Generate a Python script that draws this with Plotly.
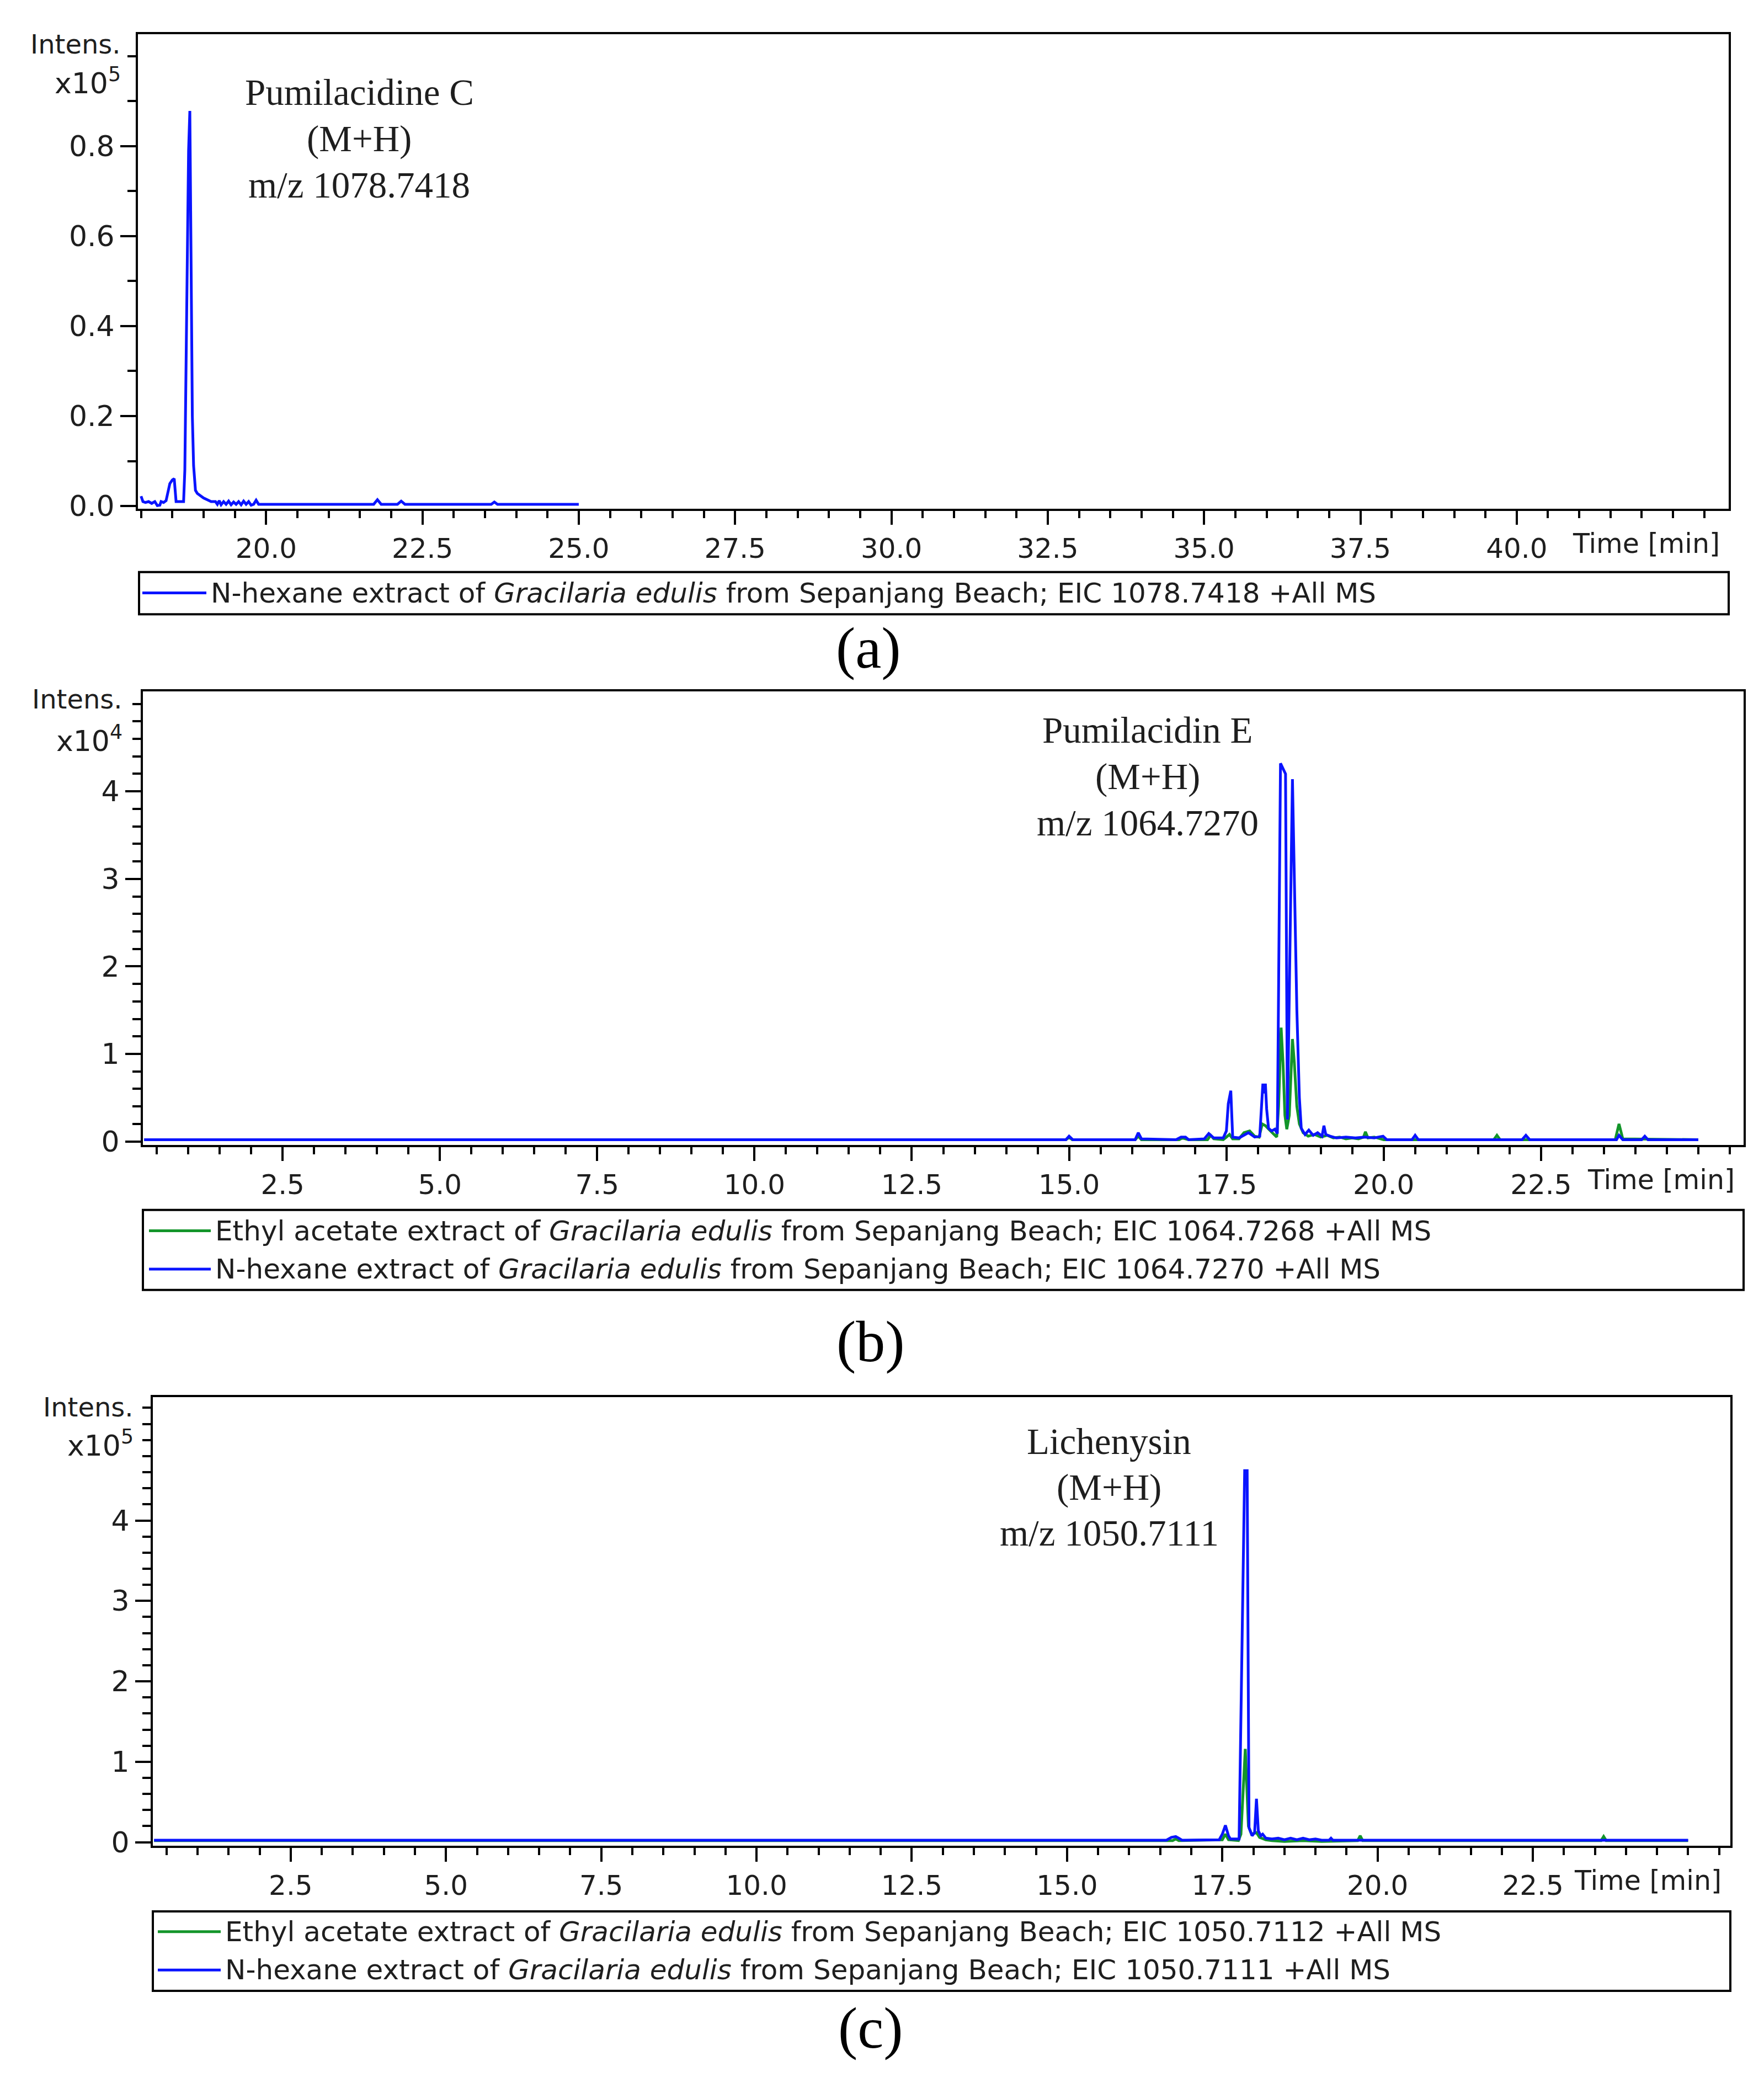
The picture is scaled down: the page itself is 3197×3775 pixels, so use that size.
import plotly.graph_objects as go

W, H = 3197, 3775

# ---------------- data (intensities in units shown on each y axis) ----------------
# Panel (a): N-hexane extract, EIC 1078.7418 (x10^5)
A_HX_TIME = [18.00, 18.03, 18.07, 18.12, 18.17, 18.22, 18.26, 18.30, 18.32, 18.36, 18.40,
             18.43, 18.46, 18.50, 18.53, 18.56, 18.60, 18.64, 18.68, 18.70, 18.72, 18.74,
             18.76, 18.78, 18.80, 18.82, 18.84, 18.87, 18.90, 18.95, 19.00, 19.06, 19.12,
             19.19, 19.22, 19.25, 19.28, 19.32, 19.36, 19.40, 19.44, 19.48, 19.52, 19.56,
             19.60, 19.64, 19.68, 19.72, 19.76, 19.80, 19.84, 19.88, 19.95, 21.72, 21.78,
             21.84, 22.10, 22.16, 22.22, 23.60, 23.65, 23.70, 25.00]
A_HX_INT = [0.022, 0.010, 0.008, 0.010, 0.006, 0.010, 0.001, 0.002, 0.010, 0.008, 0.012,
            0.034, 0.050, 0.058, 0.061, 0.010, 0.010, 0.010, 0.010, 0.080, 0.300, 0.600,
            0.790, 0.878, 0.450, 0.200, 0.090, 0.035, 0.028, 0.022, 0.018, 0.014, 0.010,
            0.010, 0.004, 0.012, 0.003, 0.010, 0.004, 0.011, 0.003, 0.009, 0.004, 0.010,
            0.003, 0.011, 0.004, 0.010, 0.002, 0.004, 0.013, 0.004, 0.004, 0.004, 0.014,
            0.004, 0.004, 0.011, 0.004, 0.004, 0.009, 0.004, 0.004]

# Panel (b): EIC 1064.727 (x10^4)
B_EA_TIME = [0.30, 14.95, 15.00, 15.05, 16.05, 16.10, 16.15, 16.75, 16.80, 16.90, 17.20,
             17.25, 17.30, 17.45, 17.50, 17.55, 17.60, 17.70, 17.78, 17.87, 17.95, 18.02,
             18.07, 18.12, 18.20, 18.25, 18.30, 18.33, 18.37, 18.40, 18.43, 18.46, 18.50,
             18.55, 18.58, 18.62, 18.66, 18.72, 18.80, 18.90, 19.00, 19.10, 19.20, 19.30,
             19.40, 19.50, 19.60, 19.68, 19.71, 19.75, 19.85, 19.95, 20.00, 21.75, 21.80,
             21.85, 23.68, 23.74, 23.80, 25.00]
B_EA_INT = [0.02, 0.02, 0.05, 0.02, 0.02, 0.06, 0.02, 0.02, 0.04, 0.02, 0.02,
            0.07, 0.03, 0.02, 0.05, 0.08, 0.03, 0.03, 0.10, 0.12, 0.06, 0.05,
            0.20, 0.18, 0.12, 0.08, 0.05, 0.40, 1.30, 0.90, 0.30, 0.14, 0.30,
            1.17, 0.90, 0.40, 0.20, 0.10, 0.06, 0.08, 0.05, 0.07, 0.04, 0.05,
            0.03, 0.04, 0.03, 0.05, 0.11, 0.04, 0.05, 0.03, 0.02, 0.02, 0.07,
            0.02, 0.02, 0.20, 0.03, 0.02]
B_HX_TIME = [0.30, 14.95, 15.00, 15.06, 16.05, 16.10, 16.15, 16.70, 16.78, 16.85, 16.90,
             17.15, 17.22, 17.30, 17.45, 17.50, 17.53, 17.57, 17.60, 17.70, 17.85, 17.95,
             18.03, 18.06, 18.08, 18.10, 18.12, 18.14, 18.17, 18.22, 18.27, 18.31, 18.33,
             18.36, 18.44, 18.47, 18.55, 18.58, 18.62, 18.66, 18.69, 18.75, 18.81, 18.88,
             18.95, 19.02, 19.05, 19.08, 19.15, 19.25, 19.40, 19.55, 19.70, 19.85, 19.99,
             20.05, 20.45, 20.50, 20.55, 22.20, 22.26, 22.32, 23.70, 23.74, 23.80, 24.10,
             24.15, 24.20, 25.00]
B_HX_INT = [0.02, 0.02, 0.06, 0.02, 0.02, 0.10, 0.03, 0.02, 0.05, 0.05, 0.02,
            0.03, 0.09, 0.04, 0.04, 0.12, 0.43, 0.58, 0.05, 0.04, 0.10, 0.05,
            0.06, 0.45, 0.66, 0.55, 0.66, 0.37, 0.15, 0.12, 0.14, 0.09, 1.50,
            4.32, 4.20, 0.25, 4.14, 3.00, 1.50, 0.50, 0.15, 0.08, 0.13, 0.07,
            0.10, 0.06, 0.18, 0.08, 0.06, 0.04, 0.05, 0.04, 0.05, 0.04, 0.06,
            0.02, 0.02, 0.07, 0.02, 0.02, 0.07, 0.02, 0.02, 0.07, 0.02, 0.02,
            0.06, 0.02, 0.02]

# Panel (c): EIC 1050.711 (x10^5)
C_EA_TIME = [0.30, 16.70, 16.75, 16.80, 17.50, 17.55, 17.60, 17.76, 17.80, 17.87, 17.92,
             17.97, 18.05, 18.10, 18.20, 18.30, 18.50, 18.80, 19.10, 19.68, 19.72, 19.76,
             23.60, 23.64, 23.68, 25.00]
C_EA_INT = [0.02, 0.02, 0.04, 0.02, 0.03, 0.10, 0.03, 0.02, 0.10, 1.16, 0.20,
            0.10, 0.12, 0.06, 0.03, 0.02, 0.01, 0.02, 0.01, 0.02, 0.08, 0.02,
            0.02, 0.07, 0.02, 0.02]
C_HX_TIME = [0.30, 16.60, 16.68, 16.75, 16.80, 16.85, 17.45, 17.50, 17.55, 17.60, 17.63,
             17.77, 17.86, 17.90, 17.93, 17.98, 18.02, 18.05, 18.08, 18.12, 18.15, 18.20,
             18.30, 18.40, 18.50, 18.60, 18.70, 18.80, 18.90, 19.00, 19.10, 19.22, 19.25,
             19.28, 25.00]
C_HX_INT = [0.025, 0.025, 0.06, 0.07, 0.05, 0.025, 0.03, 0.10, 0.21, 0.08, 0.04,
            0.04, 4.62, 4.62, 0.18, 0.08, 0.12, 0.54, 0.14, 0.08, 0.10, 0.05,
            0.04, 0.05, 0.03, 0.05, 0.03, 0.05, 0.03, 0.04, 0.025, 0.025, 0.05,
            0.025, 0.025]

# ---------------- text ----------------
LEGEND_A = ["N-hexane extract of <i>Gracilaria edulis</i> from Sepanjang Beach; EIC 1078.7418 +All MS"]
LEGEND_B = ["Ethyl acetate extract of <i>Gracilaria edulis</i> from Sepanjang Beach; EIC 1064.7268 +All MS",
            "N-hexane extract of <i>Gracilaria edulis</i> from Sepanjang Beach; EIC 1064.7270 +All MS"]
LEGEND_C = ["Ethyl acetate extract of <i>Gracilaria edulis</i> from Sepanjang Beach; EIC 1050.7112 +All MS",
            "N-hexane extract of <i>Gracilaria edulis</i> from Sepanjang Beach; EIC 1050.7111 +All MS"]
COMPOUND_A = ["Pumilacidine C", "(M+H)", "m/z 1078.7418"]
COMPOUND_B = ["Pumilacidin E", "(M+H)", "m/z 1064.7270"]
COMPOUND_C = ["Lichenysin", "(M+H)", "m/z 1050.7111"]
PANEL_LABELS = ["(a)", "(b)", "(c)"]

X_TICKS_A = [20.0, 22.5, 25.0, 27.5, 30.0, 32.5, 35.0, 37.5, 40.0]
X_LABELS_A = ["20.0", "22.5", "25.0", "27.5", "30.0", "32.5", "35.0", "37.5", "40.0"]
X_TICKS_BC = [2.5, 5.0, 7.5, 10.0, 12.5, 15.0, 17.5, 20.0, 22.5]
X_LABELS_BC = ["2.5", "5.0", "7.5", "10.0", "12.5", "15.0", "17.5", "20.0", "22.5"]
Y_TICKS_A = [0.0, 0.2, 0.4, 0.6, 0.8]
Y_LABELS_A = ["0.0", "0.2", "0.4", "0.6", "0.8"]
Y_TICKS_BC = [0, 1, 2, 3, 4]
Y_LABELS_BC = ["0", "1", "2", "3", "4"]

BLUE = "#0a14ff"
GREEN = "#13952a"
INK = "#1e1e1e"
SANS = "DejaVu Sans, Arial, sans-serif"
SERIF = "Liberation Serif, Times New Roman, serif"


def px(x):
    return x / W


def py(y):
    return 1 - y / H


# panel geometry in pixels (left, right, top, bottom)
panels = [
    dict(box=(242, 3125, 54, 920), xr=[17.95, 43.39], yr=[-0.0055, 1.049],
         xt=X_TICKS_A, xl=X_LABELS_A, yt=Y_TICKS_A, yl=Y_LABELS_A, ymin=0.1,
         exp="x10<sup>5</sup>", intens_y=72, exp_y=140, lab_r=213,
         comp=COMPOUND_A, comp_x=643, comp_y=[160, 245, 329],
         leg=LEGEND_A, leg_colors=[BLUE], leg_box=(244, 3125, 1036, 1113), leg_rows=[1074],
         leg_line=(250, 366), leg_text=372, plab_y=1175, plab_x=1566),
    dict(box=(251, 3152, 1254, 2081), xr=[0.28, 25.72], yr=[-0.038, 5.14],
         xt=X_TICKS_BC, xl=X_LABELS_BC, yt=Y_TICKS_BC, yl=Y_LABELS_BC, ymin=0.2,
         exp="x10<sup>4</sup>", intens_y=1268, exp_y=1340, lab_r=216,
         comp=COMPOUND_B, comp_x=2072, comp_y=[1324, 1409, 1493],
         leg=LEGEND_B, leg_colors=[GREEN, BLUE], leg_box=(251, 3152, 2200, 2346), leg_rows=[2238, 2308],
         leg_line=(262, 374), leg_text=380, plab_y=2440, plab_x=1570),
    dict(box=(269, 3128, 2542, 3360), xr=[0.28, 25.68], yr=[-0.043, 5.53],
         xt=X_TICKS_BC, xl=X_LABELS_BC, yt=Y_TICKS_BC, yl=Y_LABELS_BC, ymin=0.2,
         exp="x10<sup>5</sup>", intens_y=2560, exp_y=2626, lab_r=236,
         comp=COMPOUND_C, comp_x=2002, comp_y=[2622, 2706, 2789],
         leg=LEGEND_C, leg_colors=[GREEN, BLUE], leg_box=(269, 3128, 3480, 3625), leg_rows=[3517, 3587],
         leg_line=(278, 392), leg_text=398, plab_y=3693, plab_x=1570),
]

traces = [
    [(A_HX_TIME, A_HX_INT, BLUE)],
    [(B_EA_TIME, B_EA_INT, GREEN), (B_HX_TIME, B_HX_INT, BLUE)],
    [(C_EA_TIME, C_EA_INT, GREEN), (C_HX_TIME, C_HX_INT, BLUE)],
]

fig = go.Figure()
layout = dict(
    width=W, height=H, margin=dict(l=0, r=0, t=0, b=0),
    paper_bgcolor="white", plot_bgcolor="white", showlegend=False,
)
annotations = []
shapes = []

for i, (p, trs) in enumerate(zip(panels, traces)):
    n = "" if i == 0 else str(i + 1)
    xa, ya = "x" + n, "y" + n
    for (t, v, c) in trs:
        fig.add_trace(go.Scatter(x=t, y=v, mode="lines", xaxis=xa, yaxis=ya,
                                 line=dict(color=c, width=5), hoverinfo="skip"))
    l, r, top, bot = p["box"]
    layout["xaxis" + n] = dict(
        domain=[px(l), px(r)], anchor=ya, range=p["xr"], showgrid=False, zeroline=False,
        showline=True, linecolor="black", linewidth=4, mirror=True,
        tickmode="array", tickvals=p["xt"], ticktext=p["xl"],
        ticks="outside", ticklen=25, tickwidth=4, tickcolor="black",
        tickfont=dict(family=SANS, size=50, color=INK),
        minor=dict(tickmode="linear", tick0=0, dtick=0.5, ticks="outside",
                   ticklen=13, tickwidth=3.5, tickcolor="black", showgrid=False),
    )
    layout["yaxis" + n] = dict(
        domain=[py(bot), py(top)], anchor=xa, range=p["yr"], showgrid=False, zeroline=False,
        showline=True, linecolor="black", linewidth=4, mirror=True,
        tickmode="array", tickvals=p["yt"], ticktext=p["yl"],
        ticks="outside", ticklen=28, tickwidth=4, tickcolor="black",
        tickfont=dict(family=SANS, size=52, color=INK),
        minor=dict(tickmode="linear", tick0=0, dtick=p["ymin"], ticks="outside",
                   ticklen=15, tickwidth=3.5, tickcolor="black", showgrid=False),
    )
    # axis captions
    annotations.append(dict(text="Intens.", x=px(p["lab_r"]), y=py(p["intens_y"]), xref="paper", yref="paper",
                            xanchor="right", yanchor="middle", showarrow=False,
                            font=dict(family=SANS, size=48, color=INK)))
    annotations.append(dict(text=p["exp"], x=px(p["lab_r"]), y=py(p["exp_y"]), xref="paper", yref="paper",
                            xanchor="right", yanchor="middle", showarrow=False,
                            font=dict(family=SANS, size=52, color=INK)))
    annotations.append(dict(text="Time [min]", x=px(r - 14), y=py(bot + 64), xref="paper", yref="paper",
                            xanchor="right", yanchor="middle", showarrow=False,
                            font=dict(family=SANS, size=49, color=INK)))
    # compound labels
    for txt, yy in zip(p["comp"], p["comp_y"]):
        annotations.append(dict(text=txt, x=px(p["comp_x"]), y=py(yy), xref="paper", yref="paper",
                                xanchor="center", yanchor="middle", showarrow=False,
                                font=dict(family=SERIF, size=67, color=INK)))
    # legend box
    bl, br, bt, bb = p["leg_box"]
    shapes.append(dict(type="rect", xref="paper", yref="paper", x0=px(bl), x1=px(br), y0=py(bb), y1=py(bt),
                       line=dict(color="black", width=4), fillcolor="rgba(0,0,0,0)"))
    for txt, col, yy in zip(p["leg"], p["leg_colors"], p["leg_rows"]):
        shapes.append(dict(type="line", xref="paper", yref="paper", x0=px(p["leg_line"][0]), x1=px(p["leg_line"][1]),
                           y0=py(yy), y1=py(yy), line=dict(color=col, width=5)))
        annotations.append(dict(text=txt, x=px(p["leg_text"]), y=py(yy), xref="paper", yref="paper",
                                xanchor="left", yanchor="middle", showarrow=False,
                                font=dict(family=SANS, size=50, color=INK)))
    # panel label
    annotations.append(dict(text=PANEL_LABELS[i], x=px(p["plab_x"]), y=py(p["plab_y"]), xref="paper", yref="paper",
                            xanchor="center", yanchor="middle", showarrow=False,
                            font=dict(family=SERIF, size=106, color="black")))

layout["annotations"] = annotations
layout["shapes"] = shapes
fig.update_layout(**layout)
fig.write_html("out.html")
